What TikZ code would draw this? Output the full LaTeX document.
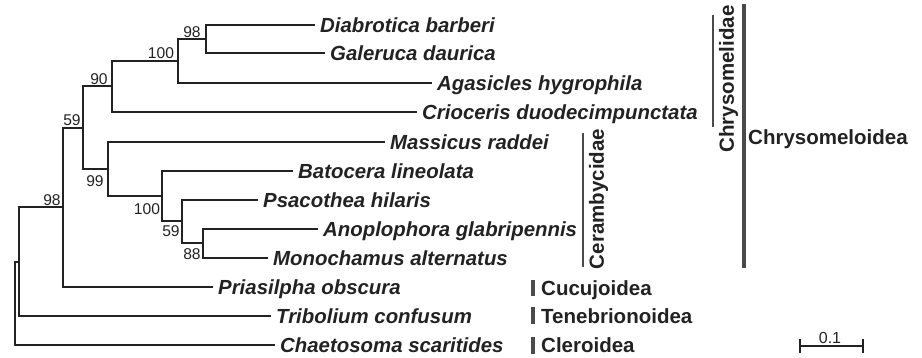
\documentclass[tikz,border=0pt]{standalone}
\usepackage{fontspec}
\setmainfont{Liberation Sans}
\usetikzlibrary{positioning}
\definecolor{treeink}{HTML}{222222}
\definecolor{barink}{HTML}{4A4A4A}
\tikzset{br/.style={draw=treeink,line width=2pt},taxon/.style={anchor=west,inner xsep=5pt,inner ysep=0pt,text height=14.7pt,text depth=0pt,font=\fontsize{20.4}{24}\selectfont\bfseries\itshape,text=treeink},bs/.style={inner sep=0pt,font=\fontsize{15.6}{18}\selectfont,text=treeink},clade/.style={inner sep=0pt,text height=14.6pt,text depth=0pt,font=\fontsize{20.5}{24}\selectfont\bfseries,text=treeink},cbar/.style={draw=barink,line width=1.8pt},sbar/.style={draw=barink,line width=4pt}}

\begin{document}
\begin{tikzpicture}[x=1pt,y=-1pt]
\useasboundingbox (0,0) rectangle (922,358);
% tips
\coordinate (t1) at (315,25);\coordinate (t2) at (325,53);\coordinate (t3) at (432,83);\coordinate (t4) at (417,112);\coordinate (t5) at (385,142);\coordinate (t6) at (293,171);
\coordinate (t7) at (258,200);\coordinate (t8) at (318,229);\coordinate (t9) at (268,258);\coordinate (t10) at (213,287);\coordinate (t11) at (271,316);\coordinate (t12) at (275,345);
% internal nodes
\coordinate (n1) at (206,39);\coordinate (n2) at (178,61);\coordinate (n3) at (112,86.5);\coordinate (n7) at (203,243.5);\coordinate (n6) at (182,221.5);\coordinate (n5) at (162,196);
\coordinate (n4) at (108,169);\coordinate (n8) at (83,128);\coordinate (n9) at (63,207.5);\coordinate (n10) at (19,262);\coordinate (n11) at (15,303.5);
\foreach \p/\c in {n1/t1,n1/t2,n2/n1,n2/t3,n3/n2,n3/t4,n7/t8,n7/t9,n6/t7,n6/n7,n5/t6,n5/n6,n4/t5,n4/n5,n8/n3,n8/n4,n9/n8,n9/t10,n10/n9,n10/t11,n11/n10,n11/t12}\draw[br] (\p) |- (\c);
\node[taxon] (l1) at (t1) {Diabrotica barberi};\node[taxon] (l2) at (t2) {Galeruca daurica};\node[taxon] (l3) at (t3) {Agasicles hygrophila};\node[taxon] (l4) at (t4) {Crioceris duodecimpunctata};
\node[taxon] (l5) at (t5) {Massicus raddei};\node[taxon] (l6) at (t6) {Batocera lineolata};\node[taxon] (l7) at (t7) {Psacothea hilaris};\node[taxon] (l8) at (t8) {Anoplophora glabripennis};
\node[taxon] (l9) at (t9) {Monochamus alternatus};\node[taxon] (l10) at (t10) {Priasilpha obscura};\node[taxon] (l11) at (t11) {Tribolium confusum};\node[taxon] (l12) at (t12) {Chaetosoma scaritides};
% support values
\node[bs] (b1) at (192,32) {98};\node[bs] (b2) at (161,53.5) {100};\node[bs] (b3) at (99,79) {90};\node[bs] (b4) at (72,120) {59};\node[bs] (b5) at (95,181) {99};
\node[bs] (b6) at (147,209) {100};\node[bs] (b7) at (171,231.5) {59};\node[bs] (b8) at (192,254) {88};\node[bs] (b9) at (52,200) {98};
% groups
\draw[cbar] (713,15) -- (713,127);\node[clade,rotate=90] (c1) at (726.5,79) {Chrysomelidae};
\draw[cbar] (583,133) -- (583,267);\node[clade,rotate=90] (c2) at (596.5,199) {Cerambycidae};
\draw[sbar] (744,4) -- (744,268);\node[clade,anchor=west] (c3) at (748,137) {Chrysomeloidea};
\draw[sbar] (533,280) -- (533,296);\node[clade,anchor=west] (c4) at (541,288) {Cucujoidea};
\draw[sbar] (533,307) -- (533,324);\node[clade,anchor=west] (c5) at (541,316) {Tenebrionoidea};
\draw[sbar] (533,337) -- (533,354);\node[clade,anchor=west] (c6) at (541,345) {Cleroidea};
% scale
\coordinate (s1) at (800,346);\coordinate (s2) at (863,346);
\draw[br,line width=1.5pt] (s1) -- (s2);\draw[br,line width=1.5pt] ([yshift=7pt]s1) -- ([yshift=-7pt]s1);\draw[br,line width=1.5pt] ([yshift=7pt]s2) -- ([yshift=-7pt]s2);
\node[bs,font=\fontsize{16}{18}\selectfont,above=2.5pt of s1,xshift=30pt] (sc) {0.1};
\end{tikzpicture}
\end{document}
